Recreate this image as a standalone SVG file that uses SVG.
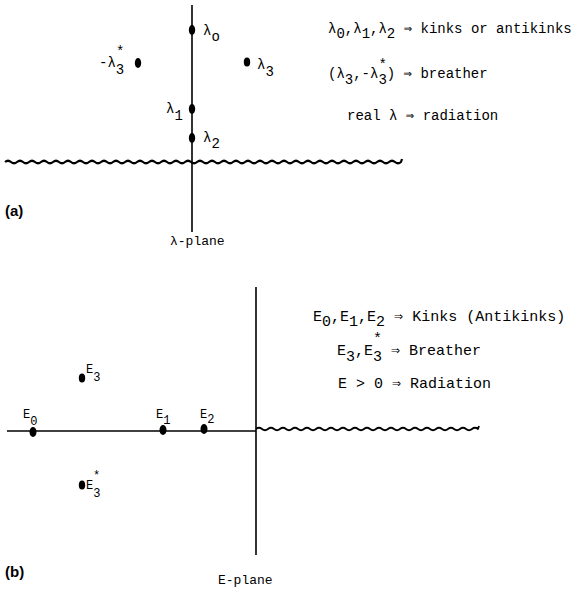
<svg xmlns="http://www.w3.org/2000/svg" width="584" height="590" viewBox="0 0 584 590">
<style>
.ax{stroke:#000;stroke-width:1.6;fill:none}
.wv{stroke:#000;stroke-width:2.2;fill:none;stroke-linejoin:round}
.dot{fill:#000}
.t{font-family:"Liberation Mono","DejaVu Sans Mono",monospace;font-size:14px;fill:#000}
.tb{font-family:"Liberation Mono","DejaVu Sans Mono",monospace;font-size:15px;fill:#000}
.lb{font-family:"Liberation Mono","DejaVu Sans Mono",monospace;font-size:14px;fill:#000}
.pl{font-family:"Liberation Sans",Arial,sans-serif;font-size:15px;font-weight:bold;fill:#000}
</style>
<rect width="584" height="590" fill="#fff"/>
<g id="connectors">
<line class="ax" x1="192" y1="5" x2="192" y2="232"/>
<path class="wv" d="M5 162 q3 -2.5 6 0 t6 0 t6 0 t6 0 t6 0 t6 0 t6 0 t6 0 t6 0 t6 0 t6 0 t6 0 t6 0 t6 0 t6 0 t6 0 t6 0 t6 0 t6 0 t6 0 t6 0 t6 0 t6 0 t6 0 t6 0 t6 0 t6 0 t6 0 t6 0 t6 0 t6 0 t6 0 t6 0 t6 0 t6 0 t6 0 t6 0 t6 0 t6 0 t6 0 t6 0 t6 0 t6 0 t6 0 t6 0 t6 0 t6 0 t6 0 t6 0 t6 0 t6 0 t6 0 t6 0 t6 0 t6 0 t6 0 t6 0 t6 0 t6 0 t6 0 t6 0 t6 0 t6 0 t6 0 t6 0 t6 0 l1 -3"/>
<line class="ax" x1="256" y1="287" x2="256" y2="555"/>
<line class="ax" x1="7" y1="431" x2="256" y2="431"/>
<path class="wv" style="stroke-width:1.8" d="M256 429 q3 -2.5 6 0 t6 0 t6 0 t6 0 t6 0 t6 0 t6 0 t6 0 t6 0 t6 0 t6 0 t6 0 t6 0 t6 0 t6 0 t6 0 t6 0 t6 0 t6 0 t6 0 t6 0 t6 0 t6 0 t6 0 t6 0 t6 0 t6 0 t6 0 t6 0 t6 0 t6 0 t6 0 t6 0 t6 0 t6 0 t6 0 t6 0 l1 -3"/>
</g>
<g id="lambda0"><ellipse class="dot" cx="192" cy="30" rx="3.2" ry="5"/><text class="lb" x="203" y="35">λ<tspan dy="6">o</tspan></text></g>
<g id="lambda1"><ellipse class="dot" cx="192" cy="109" rx="3.2" ry="5"/><text class="lb" x="166" y="113">λ<tspan dy="7">1</tspan></text></g>
<g id="lambda2"><ellipse class="dot" cx="192" cy="138" rx="3.2" ry="5"/><text class="lb" x="203" y="142">λ<tspan dy="6">2</tspan></text></g>
<g id="lambda3"><ellipse class="dot" cx="247" cy="62" rx="3.2" ry="4.5"/><text class="lb" x="257" y="69">λ<tspan dy="7">3</tspan></text></g>
<g id="mlambda3star"><ellipse class="dot" cx="138" cy="63" rx="3.2" ry="5"/><text class="lb" x="99" y="67">-λ<tspan dy="7">3</tspan><tspan x="116" dy="-18">*</tspan></text></g>
<g id="legend-a">
<text class="t" x="328" y="33">λ<tspan dy="5">0</tspan><tspan dy="-5">,λ</tspan><tspan dy="5">1</tspan><tspan dy="-5">,λ</tspan><tspan dy="5">2</tspan><tspan dy="-5"> ⇒ kinks or antikinks</tspan></text>
<text class="t" x="328" y="78">(λ<tspan dy="6">3</tspan><tspan dy="-6">,-λ</tspan><tspan dy="6">3</tspan><tspan x="378.4" dy="-15">*</tspan><tspan x="386.8" dy="9">) ⇒ breather</tspan></text>
<text class="t" x="347" y="120">real λ ⇒ radiation</text>
</g>
<g id="label-a"><text class="pl" x="5" y="216">(a)</text><text class="t" style="font-size:13px" x="170" y="245">λ-plane</text></g>
<g id="E0"><ellipse class="dot" cx="33" cy="432" rx="3.5" ry="5"/><text class="lb" style="font-size:12px" x="23" y="418">E<tspan dy="7">0</tspan></text></g>
<g id="E1"><ellipse class="dot" cx="163" cy="430" rx="3.5" ry="5"/><text class="lb" style="font-size:12px" x="156" y="418">E<tspan dy="6">1</tspan></text></g>
<g id="E2"><ellipse class="dot" cx="204" cy="429" rx="3.5" ry="5"/><text class="lb" style="font-size:12px" x="200" y="418">E<tspan dy="5">2</tspan></text></g>
<g id="E3"><ellipse class="dot" cx="82" cy="378" rx="3.2" ry="4.5"/><text class="lb" style="font-size:12px" x="86" y="373">E<tspan dy="8">3</tspan></text></g>
<g id="E3star"><ellipse class="dot" cx="82" cy="485" rx="3.2" ry="4.5"/><text class="lb" style="font-size:12px" x="86" y="489">E<tspan dy="8">3</tspan><tspan x="93" dy="-18">*</tspan></text></g>
<g id="legend-b">
<text class="tb" x="313" y="321">E<tspan dy="5">0</tspan><tspan dy="-5">,E</tspan><tspan dy="5">1</tspan><tspan dy="-5">,E</tspan><tspan dy="5">2</tspan><tspan dy="-5"> ⇒ Kinks (Antikinks)</tspan></text>
<text class="tb" x="337" y="355">E<tspan dy="6">3</tspan><tspan dy="-6">,E</tspan><tspan dy="6">3</tspan><tspan x="373" dy="-18">*</tspan><tspan x="382" dy="12"> ⇒ Breather</tspan></text>
<text class="tb" x="338" y="388">E &gt; 0 ⇒ Radiation</text>
</g>
<g id="label-b"><text class="pl" x="5" y="577">(b)</text><text class="t" style="font-size:13px" x="218" y="584">E-plane</text></g>
</svg>
